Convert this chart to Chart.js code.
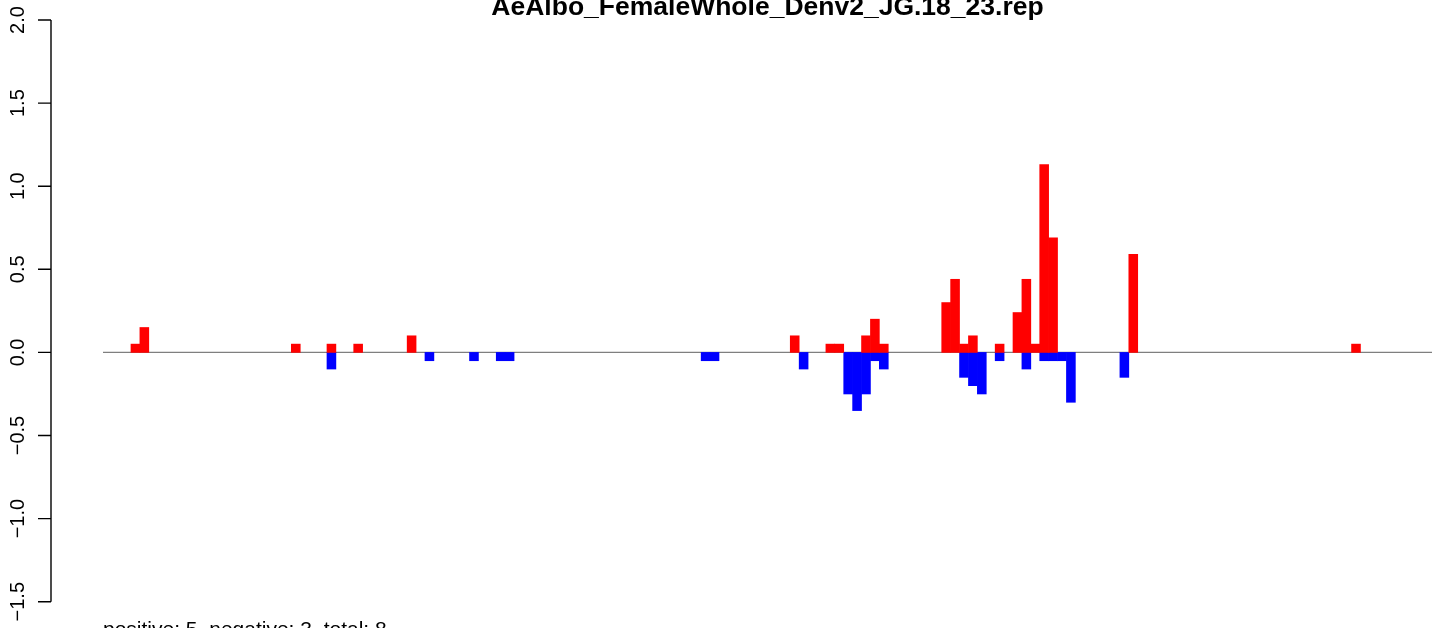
<!DOCTYPE html>
<html>
<head>
<meta charset="utf-8">
<script src="https://cdn.jsdelivr.net/npm/chart.js@4/dist/chart.umd.min.js"></script>
<style>
html,body{margin:0;padding:0;background:#fff;overflow:hidden}
#wrap{width:1444px;height:628px;position:relative}
canvas{display:block}
</style>
</head>
<body>
<div id="wrap"><canvas id="c" width="1444" height="628"></canvas></div>
<script>
const chartTitle = "AeAlbo_FemaleWhole_Denv2_JG.18_23.rep";
const footerText = "positive: 5, negative: 3, total: 8";

// bin index of each bar (bar k spans [k, k+1]) and its value
const posBins = [0, 1, 18, 22, 25, 31, 74, 78, 79, 82, 83, 84, 91, 92, 93, 94, 97, 99, 100, 101, 102, 103, 112, 137];
const posVals = [0.05, 0.15, 0.05, 0.05, 0.05, 0.10, 0.10, 0.05, 0.05, 0.10, 0.20, 0.05, 0.30, 0.44, 0.05, 0.10, 0.05, 0.24, 0.44, 0.05, 1.13, 0.69, 0.59, 0.05];
const negBins = [22, 33, 38, 41, 42, 64, 65, 75, 80, 81, 82, 83, 84, 93, 94, 95, 97, 100, 102, 103, 104, 105, 111];
const negVals = [-0.10, -0.05, -0.05, -0.05, -0.05, -0.05, -0.05, -0.10, -0.25, -0.35, -0.25, -0.05, -0.10, -0.15, -0.20, -0.25, -0.05, -0.10, -0.05, -0.05, -0.05, -0.30, -0.15];

const yTicks = [-1.5, -1.0, -0.5, 0.0, 0.5, 1.0, 1.5, 2.0];
const yTickLabels = ["\u22121.5", "\u22121.0", "\u22120.5", "0.0", "0.5", "1.0", "1.5", "2.0"];

const xLimits = [-3.14, 146.03];
const yLimits = [-1.658, 2.1203];

const rPlot = {
  id: 'rPlot',
  beforeDatasetsDraw(chart) {
    const {ctx, chartArea, scales} = chart;
    const y0 = scales.y.getPixelForValue(0);
    ctx.save();
    ctx.strokeStyle = '#7f7f7f';
    ctx.lineWidth = 1.4;
    ctx.beginPath();
    ctx.moveTo(chartArea.left, y0);
    ctx.lineTo(chartArea.right, y0);
    ctx.stroke();
    ctx.restore();
  },
  afterDraw(chart) {
    const {ctx, chartArea, scales} = chart;
    const y = scales.y;
    const axX = 51;
    ctx.save();
    ctx.strokeStyle = '#000';
    ctx.lineWidth = 1.4;
    const pTop = y.getPixelForValue(yTicks[yTicks.length - 1]);
    const pBot = y.getPixelForValue(yTicks[0]);
    ctx.beginPath();
    ctx.moveTo(axX, pTop);
    ctx.lineTo(axX, pBot);
    yTicks.forEach(v => {
      const p = y.getPixelForValue(v);
      ctx.moveTo(axX, p);
      ctx.lineTo(axX - 13, p);
    });
    ctx.stroke();
    ctx.fillStyle = '#000';
    ctx.font = '20px "Liberation Sans", Arial, sans-serif';
    ctx.textAlign = 'center';
    ctx.textBaseline = 'alphabetic';
    yTicks.forEach((v, i) => {
      const p = y.getPixelForValue(v);
      ctx.save();
      ctx.translate(23.5, p);
      ctx.rotate(-Math.PI / 2);
      ctx.fillText(yTickLabels[i], 0, 0);
      ctx.restore();
    });
    ctx.font = 'bold 26.5px "Liberation Sans", Arial, sans-serif';
    ctx.textAlign = 'center';
    ctx.fillText(chartTitle, (chartArea.left + chartArea.right) / 2, 15);
    ctx.font = '21px "Liberation Sans", Arial, sans-serif';
    ctx.textAlign = 'left';
    ctx.fillText(footerText, chartArea.left, 636);
    ctx.restore();
  }
};

new Chart(document.getElementById('c'), {
  type: 'bar',
  data: {
    datasets: [
      {
        label: 'positive',
        data: posBins.map((b, i) => ({x: b + 0.5, y: posVals[i]})),
        backgroundColor: '#ff0000',
        borderWidth: 0
      },
      {
        label: 'negative',
        data: negBins.map((b, i) => ({x: b + 0.5, y: negVals[i]})),
        backgroundColor: '#0000ff',
        borderWidth: 0
      }
    ]
  },
  options: {
    responsive: false,
    animation: false,
    devicePixelRatio: 1,
    layout: {padding: {left: 103, right: 12, top: 0, bottom: 0}},
    datasets: {bar: {grouped: false, barPercentage: 1, categoryPercentage: 1}},
    plugins: {legend: {display: false}, title: {display: false}, tooltip: {enabled: false}},
    scales: {
      x: {type: 'linear', min: xLimits[0], max: xLimits[1], display: false, offset: false},
      y: {type: 'linear', min: yLimits[0], max: yLimits[1], display: false}
    }
  },
  plugins: [rPlot]
});
</script>
</body>
</html>
